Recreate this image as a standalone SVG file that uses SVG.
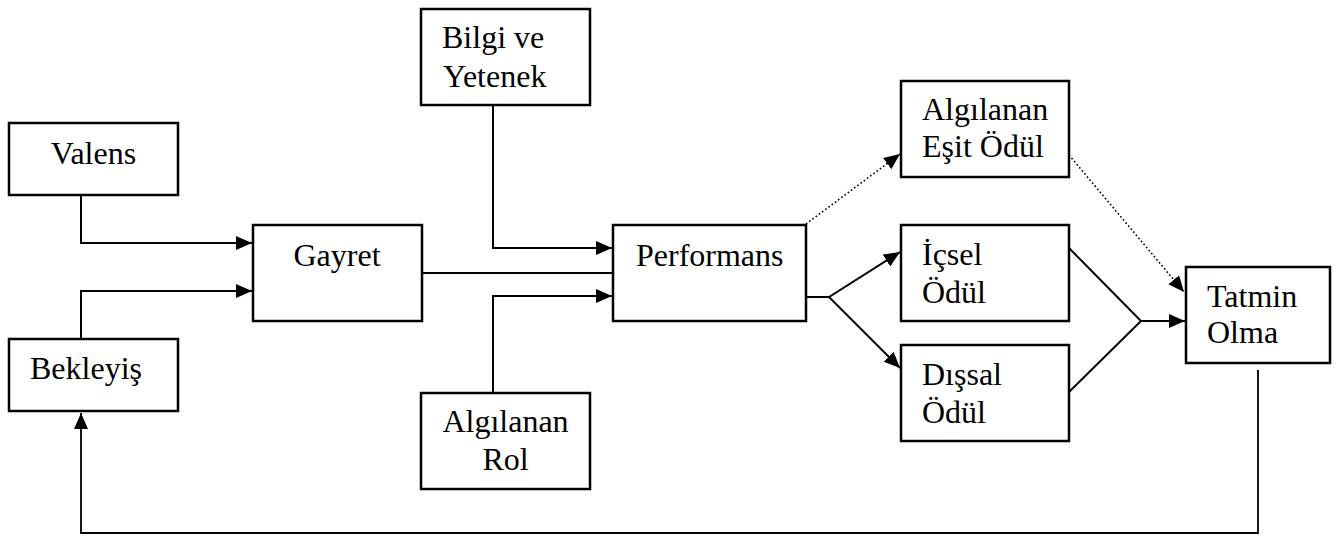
<svg xmlns="http://www.w3.org/2000/svg" width="1341" height="536" viewBox="0 0 1341 536">
<style>
  .box { fill: #ffffff; stroke: #000000; stroke-width: 2.5; }
  text { font-family: 'Liberation Serif', 'DejaVu Serif', serif; font-size: 32px; fill: #000000; }
  .mid { text-anchor: middle; }
  .conn { fill: none; stroke: #000000; stroke-width: 2; }
  .thin { fill: none; stroke: #000000; stroke-width: 1.8; }
  .dot { fill: none; stroke: #000000; stroke-width: 1.6; stroke-dasharray: 1.6 2.4; }
</style>
<defs>
  <marker id="arr" markerUnits="userSpaceOnUse" markerWidth="17" markerHeight="16" refX="16" refY="8" orient="auto">
    <path d="M0,1 L16,8 L0,15 z" fill="#000000"/>
  </marker>
</defs>
<rect width="1341" height="536" fill="#ffffff"/>
<g id="connectors">
  <polyline class="conn" points="81,195 81,243 252,243" marker-end="url(#arr)"/>
  <polyline class="conn" points="81,339 81,291 252,291" marker-end="url(#arr)"/>
  <line class="conn" x1="422" y1="273" x2="613" y2="273"/>
  <polyline class="conn" points="493,105 493,248 612,248" marker-end="url(#arr)"/>
  <polyline class="conn" points="493,393 493,296 612,296" marker-end="url(#arr)"/>
  <polyline class="conn" points="806,297 829,297 900,252" marker-end="url(#arr)"/>
  <polyline class="conn" points="829,297 900,368" marker-end="url(#arr)"/>
  <line class="dot" x1="806" y1="224" x2="900" y2="154" marker-end="url(#arr)"/>
  <line class="dot" x1="1069" y1="155" x2="1184" y2="292" marker-end="url(#arr)"/>
  <polyline class="conn" points="1069,248 1141,321 1069,392"/>
  <line class="conn" x1="1141" y1="321" x2="1185" y2="321" marker-end="url(#arr)"/>
  <polyline class="thin" points="1258,370 1258,533 81,533 81,413" marker-end="url(#arr)"/>
</g>
<g id="valens">
  <rect class="box" x="9" y="123" width="169" height="72"/>
  <text class="mid" x="93.5" y="164" font-family="Liberation Serif, serif">Valens</text>
</g>
<g id="bekleyis">
  <rect class="box" x="9" y="339" width="169" height="72"/>
  <text x="30" y="379" font-family="Liberation Serif, serif">Bekleyiş</text>
</g>
<g id="gayret">
  <rect class="box" x="253" y="225" width="169" height="96"/>
  <text class="mid" x="337" y="266" font-family="Liberation Serif, serif">Gayret</text>
</g>
<g id="bilgi">
  <rect class="box" x="421" y="9" width="169" height="96"/>
  <text x="442" y="48" font-family="Liberation Serif, serif">Bilgi ve</text>
  <text x="443" y="87" font-family="Liberation Serif, serif">Yetenek</text>
</g>
<g id="rol">
  <rect class="box" x="421" y="393" width="169" height="96"/>
  <text class="mid" x="505.5" y="432" font-family="Liberation Serif, serif">Algılanan</text>
  <text class="mid" x="505.5" y="470" font-family="Liberation Serif, serif">Rol</text>
</g>
<g id="performans">
  <rect class="box" x="613" y="225" width="193" height="96"/>
  <text x="636" y="266" font-family="Liberation Serif, serif">Performans</text>
</g>
<g id="esit">
  <rect class="box" x="901" y="81" width="168" height="96"/>
  <text x="922" y="120" font-family="Liberation Serif, serif">Algılanan</text>
  <text x="922" y="157" font-family="Liberation Serif, serif">Eşit Ödül</text>
</g>
<g id="icsel">
  <rect class="box" x="901" y="225" width="168" height="96"/>
  <text x="922" y="265" font-family="Liberation Serif, serif">İçsel</text>
  <text x="922" y="303" font-family="Liberation Serif, serif">Ödül</text>
</g>
<g id="dissal">
  <rect class="box" x="901" y="345" width="168" height="96"/>
  <text x="922" y="385" font-family="Liberation Serif, serif">Dışsal</text>
  <text x="922" y="423" font-family="Liberation Serif, serif">Ödül</text>
</g>
<g id="tatmin">
  <rect class="box" x="1186" y="267" width="144" height="96"/>
  <text x="1207" y="307" font-family="Liberation Serif, serif">Tatmin</text>
  <text x="1207" y="343" font-family="Liberation Serif, serif">Olma</text>
</g>
</svg>
